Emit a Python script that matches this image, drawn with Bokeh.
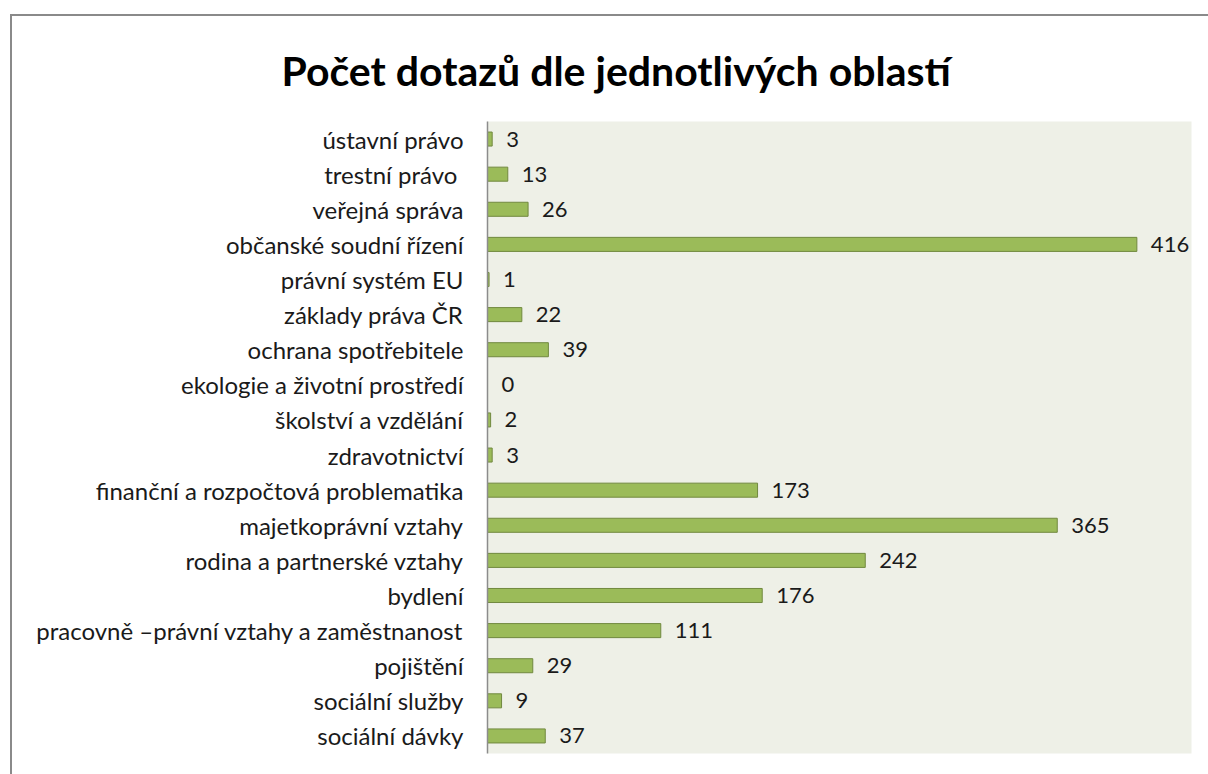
from bokeh.plotting import figure
from bokeh.models import ColumnDataSource, Range1d, FactorRange
from bokeh.core.properties import value
from bokeh.embed import file_html
from bokeh.resources import INLINE

title_text = "Počet  dotazů dle jednotlivých oblastí"
categories = [
    "ústavní právo",
    "trestní právo ",
    "veřejná správa",
    "občanské soudní řízení",
    "právní systém EU",
    "základy práva ČR",
    "ochrana spotřebitele",
    "ekologie a životní prostředí",
    "školství a vzdělání",
    "zdravotnictví",
    "finanční a rozpočtová problematika",
    "majetkoprávní vztahy",
    "rodina a partnerské vztahy",
    "bydlení",
    "pracovně –právní vztahy a zaměstnanost",
    "pojištění",
    "sociální služby",
    "sociální dávky",
]
counts = [3, 13, 26, 416, 1, 22, 39, 0, 2, 3, 173, 365, 242, 176, 111, 29, 9, 37]

FONT = "Lato"

src = ColumnDataSource(dict(cat=categories, val=counts, lab=[str(v) for v in counts]))

p = figure(
    width=1198, height=760,
    y_range=FactorRange(*list(reversed(categories)), range_padding=0),
    x_range=Range1d(0, 451),
    output_backend="svg", toolbar_location=None,
    min_border_left=475, min_border_right=19, min_border_top=105, min_border_bottom=23,
    margin=(14, 0, 0, 10),
)
p.styles = {"border-left": "2px solid #8a8a8a", "border-top": "2px solid #8a8a8a"}
p.background_fill_color = "#eef0e7"
p.border_fill_color = "white"
p.outline_line_color = None
p.xgrid.visible = False
p.ygrid.visible = False
p.xaxis.visible = False

p.title.text = title_text
p.title.align = "left"
p.title.offset = -206
p.title.text_font = FONT
p.title.text_font_size = "41px"
p.title.text_font_style = "bold"
p.title.text_color = "black"
p.title.standoff = 54

ax = p.yaxis[0]
ax.axis_line_color = "#8c8c8c"
ax.axis_line_width = 1.5
ax.major_tick_line_color = None
ax.minor_tick_line_color = None
ax.major_label_standoff = 18
ax.major_label_text_font = FONT
ax.major_label_text_font_size = "24px"
ax.major_label_text_color = "#1a1a1a"

p.hbar(y="cat", right="val", left=0, height=0.4, source=src,
       fill_color="#9bbb59", line_color="#71893f", line_width=1)
p.text(x="val", y="cat", text="lab", source=src, x_offset=14,
       text_align="left", text_baseline="middle",
       text_font=value(FONT), text_font_size="22px", text_color="#1a1a1a")

open("out.html", "w").write(file_html(p, INLINE))
